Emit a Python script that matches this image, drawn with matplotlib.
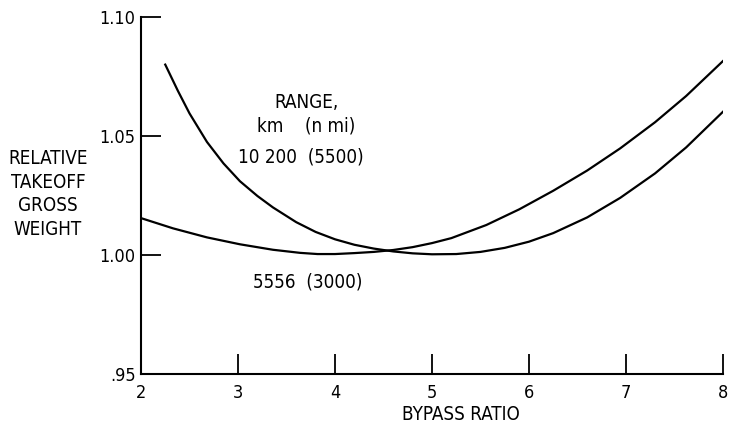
import matplotlib
matplotlib.use("Agg")
import matplotlib.pyplot as plt
from matplotlib import font_manager

# Data
bpr_10200 = [2.25, 2.38, 2.50, 2.68, 2.85, 3.02, 3.20, 3.36, 3.60, 3.80, 4.00, 4.20, 4.40,
             4.60, 4.80, 5.00, 5.25, 5.50, 5.75, 6.00, 6.25, 6.60, 6.94, 7.30, 7.62, 8.00]
tow_10200 = [1.0800, 1.0690, 1.0595, 1.0475, 1.0385, 1.0310, 1.0248, 1.0200, 1.0138, 1.0097,
             1.0066, 1.0043, 1.0027, 1.0015, 1.0007, 1.0003, 1.0004, 1.0013, 1.0030, 1.0056,
             1.0092, 1.0158, 1.0240, 1.0343, 1.0452, 1.0602]

bpr_5556 = [2.00, 2.33, 2.68, 3.02, 3.36, 3.64, 3.82, 4.00, 4.20, 4.40, 4.60, 4.80, 5.00,
            5.20, 5.56, 5.90, 6.25, 6.60, 6.94, 7.30, 7.62, 8.00]
tow_5556 = [1.0155, 1.0112, 1.0074, 1.0045, 1.0022, 1.0009, 1.0004, 1.0004, 1.0008, 1.0013,
            1.0021, 1.0033, 1.0050, 1.0071, 1.0126, 1.0192, 1.0270, 1.0355, 1.0448, 1.0558,
            1.0668, 1.0815]

xticks = [2, 3, 4, 5, 6, 7, 8]
yticks = [0.95, 1.00, 1.05, 1.10]
ytick_labels = [".95", "1.00", "1.05", "1.10"]

condensed = any(f.name == "DejaVu Sans" and str(f.stretch) in ("condensed", "semi-condensed")
                for f in font_manager.fontManager.ttflist)
plt.rcParams["font.family"] = ["DejaVu Sans"]
if condensed:
    plt.rcParams["font.stretch"] = "condensed"
    fs_tick, fs_text = 13, 13.5
else:
    fs_tick, fs_text = 12, 12

fig = plt.figure(figsize=(7.29, 4.30), dpi=100)
ax = fig.add_axes([141/729, 1 - 374/430, (723 - 141)/729, (374 - 17)/430])

ax.plot(bpr_10200, tow_10200, color="black", lw=1.6)
ax.plot(bpr_5556, tow_5556, color="black", lw=1.6)

ax.set_xlim(2, 8)
ax.set_ylim(0.95, 1.10)
ax.set_xticks(xticks)
ax.set_xticklabels([str(t) for t in xticks])
ax.set_yticks(yticks)
ax.set_yticklabels(ytick_labels)
ax.tick_params(axis="both", direction="in", length=14.4, width=1.3, color="black",
               labelsize=fs_tick)
ax.tick_params(axis="x", pad=7)
ax.tick_params(axis="y", pad=4)
for s in ["top", "right"]:
    ax.spines[s].set_visible(False)
for s in ["left", "bottom"]:
    ax.spines[s].set_linewidth(1.5)

ax.set_xlabel("BYPASS RATIO", fontsize=fs_text)
ax.xaxis.set_label_coords((461 - 141) / (723 - 141), -0.088)

fig.text(48/729, 1 - 194/430, "RELATIVE\nTAKEOFF\nGROSS\nWEIGHT", ha="center", va="center",
         linespacing=1.3, fontsize=fs_text)

ax.annotate("RANGE,", xy=(306/729, 1 - 102/430), xycoords="figure fraction", ha="center",
            va="center", fontsize=fs_text)
ax.annotate("km    (n mi)", xy=(306/729, 1 - 126/430), xycoords="figure fraction", ha="center",
            va="center", fontsize=fs_text)
ax.annotate("10 200  (5500)", xy=(301/729, 1 - 157/430), xycoords="figure fraction", ha="center",
            va="center", fontsize=fs_text)
ax.annotate("5556  (3000)", xy=(308/729, 1 - 282/430), xycoords="figure fraction", ha="center",
            va="center", fontsize=fs_text)

fig.savefig("out.png", dpi=100)
